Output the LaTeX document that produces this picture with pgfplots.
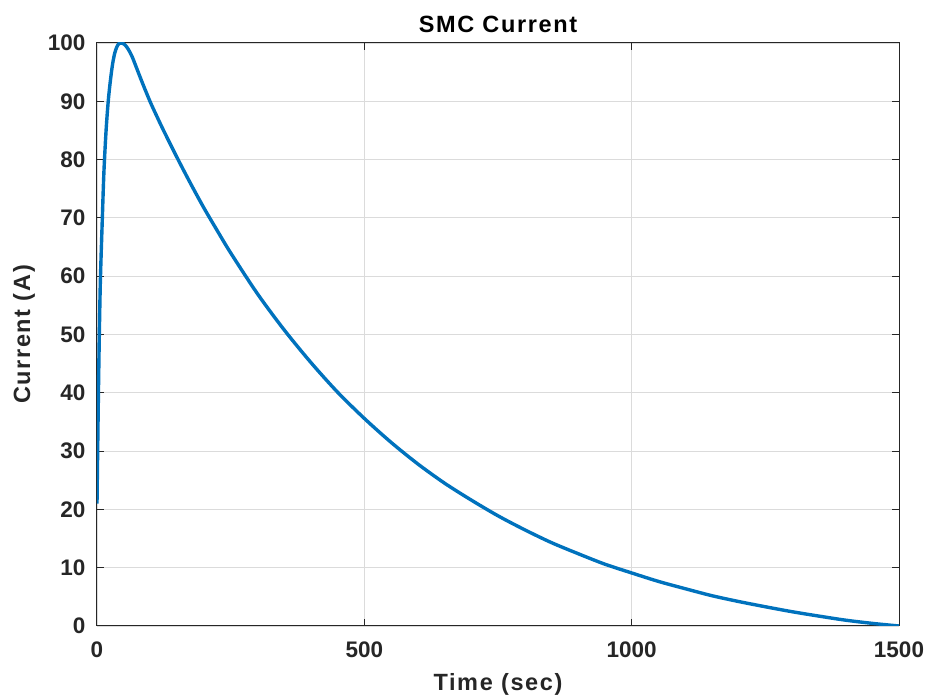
\documentclass[border=0pt]{standalone}
\usepackage{pgfplots}
\pgfplotsset{compat=1.18}
\usepackage{fontspec}
\setmainfont{Liberation Sans}
\newfontfamily\lblfont[LetterSpace=7]{Liberation Sans}
\definecolor{mblue}{RGB}{0,114,189}
\definecolor{mtext}{RGB}{38,38,38}
\begin{document}
\begin{tikzpicture}
\begin{axis}[
  name=ax,
  scale only axis,
  width=802pt, height=583pt,
  xmin=0, xmax=1500, ymin=0, ymax=100,
  xtick={0,500,1000,1500}, ytick={0,10,...,100},
  grid=major,
  major grid style={draw=black!14, line width=0.8pt},
  axis line style={black!85, line width=1pt},
  tick style={black!85, line width=1pt},
  major tick length=7pt,
  tick align=inside,
  xtick pos=both, ytick pos=both,
  /pgf/number format/assume math mode=true,
  /pgf/number format/set thousands separator={},
  ticklabel style={font=\fontsize{22.5}{26}\selectfont\bfseries, text=mtext},
  xticklabel style={yshift=-12pt},
  yticklabel style={xshift=-8pt},
  title={\lblfont\fontsize{23.5}{27}\selectfont\bfseries SMC Current},
  title style={text=black, inner sep=0pt, at={(axis description cs:0.5,1.0172)}, anchor=base, yshift=-6pt},
  xlabel={\lblfont\fontsize{23.5}{27}\selectfont\bfseries Time (sec)},
  ylabel={\lblfont\fontsize{23.5}{27}\selectfont\bfseries Current (A)},
  xlabel style={text=mtext, inner sep=0pt, at={(axis description cs:0.5,-0.1098)}, anchor=base},
  ylabel style={text=mtext, inner sep=0pt, at={(axis description cs:-0.0835,0.5)}, anchor=base},
]
\addplot[mblue, line width=3.4pt, line join=round, smooth] coordinates {
(0,21) (3,42) (6,58) (10,70) (13,78) (17,85) (21,90) (25,93.5) (29,96.3)
(33,98.2) (37,99.3) (41,99.9) (46,100) (52,99.7) (58,99.0) (65,97.8)
(72,96.2) (80,94.3) (90,92.0) (100,89.8) (110,87.8) (125,84.9) (150,80.3)
(175,75.9) (200,71.7) (225,67.8) (250,64.0)
(300,57.0) (350,50.8) (400,45.2) (450,40.1) (500,35.6) (550,31.5)
(600,27.8) (650,24.5) (700,21.6) (750,18.9) (800,16.5) (850,14.3)
(900,12.4) (950,10.6) (1000,9.1) (1050,7.65) (1100,6.4) (1150,5.2)
(1200,4.2) (1250,3.3) (1300,2.45) (1350,1.7) (1400,1.0) (1450,0.45)
(1500,0)
};
\end{axis}
\pgfresetboundingbox
\path ([xshift=-97pt,yshift=-69pt]ax.south west) rectangle ([xshift=31pt,yshift=43pt]ax.north east);
\end{tikzpicture}
\end{document}
